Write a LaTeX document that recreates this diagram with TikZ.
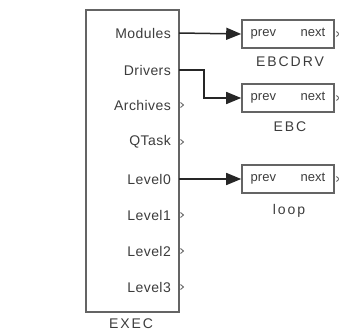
\documentclass[tikz,border=0pt]{standalone}
\usepackage{fontspec}
\setmainfont{Liberation Sans}
\usetikzlibrary{arrows.meta}
\definecolor{boxc}{RGB}{100,100,100}
\definecolor{txtc}{RGB}{60,60,60}
\tikzset{
  bigbox/.style={draw=boxc, line width=1.8pt, minimum width=93pt, minimum height=302pt, inner sep=0pt},
  portlbl/.style={anchor=east, inner sep=0pt, text=txtc, font=\fontsize{14}{14}\selectfont\addfontfeature{LetterSpace=3}},
  ptrbox/.style={draw=boxc, line width=1.6pt, minimum width=92pt, minimum height=28pt, inner sep=0pt, text=txtc, font=\fontsize{13}{13}\selectfont},
  blklbl/.style={text=txtc, inner sep=0pt, font=\fontsize{14}{14}\selectfont\addfontfeature{LetterSpace=14}},
  conn/.style={draw=black!85, line width=1.5pt, -{Triangle[length=15pt,width=12pt]}},
  chev/.style={draw=boxc, line width=0.9pt}
}
\begin{document}
\begin{tikzpicture}[x=1pt,y=-1pt]
\useasboundingbox (0,0) rectangle (339,331);
\node[bigbox] (exec) at (132.5,161) {};
\node[blklbl] (execlbl) at (131,324) {EXEC};
% port labels
\foreach \nm/\txt/\yy in {pa/Modules/33,pb/Drivers/70,pc/Archives/105,pd/QTask/142,pe/Level0/179,pf/Level1/215,pg/Level2/251,ph/Level3/287}{
  \node[portlbl] (\nm) at (171,\yy) {\txt};
  \coordinate (\nm o) at (179,\yy);
}
% unconnected port chevrons
\foreach \nm in {pc,pd,pf,pg,ph}{
  \draw[chev] ([xshift=1.5pt,yshift=-2.5pt]\nm o) -- ([xshift=4.5pt]\nm o) -- ([xshift=1.5pt,yshift=2.5pt]\nm o);
}
% right blocks
\node[ptrbox] (b1) at (288,34) {prev\hspace{1.9em}next};
\node[blklbl] (b1l) at (290,62) {EBCDRV};
\node[ptrbox] (b2) at (288,98) {prev\hspace{1.9em}next};
\node[blklbl] (b2l) at (290,127) {EBC};
\node[ptrbox] (b3) at (288,179) {prev\hspace{1.9em}next};
\node[blklbl] (b3l) at (289,211) {loop};
\foreach \b in {b1,b2,b3}{
  \draw[chev] ([xshift=1.5pt,yshift=-2.5pt]\b.east) -- ([xshift=4.5pt]\b.east) -- ([xshift=1.5pt,yshift=2.5pt]\b.east);
}
% connectors
\coordinate (bend) at (204,70);
\draw[conn] (pao) -- (b1.west);
\draw[conn] (pbo) -- (bend) |- (b2.west);
\draw[conn] (peo) -- (b3.west);
\end{tikzpicture}
\end{document}
